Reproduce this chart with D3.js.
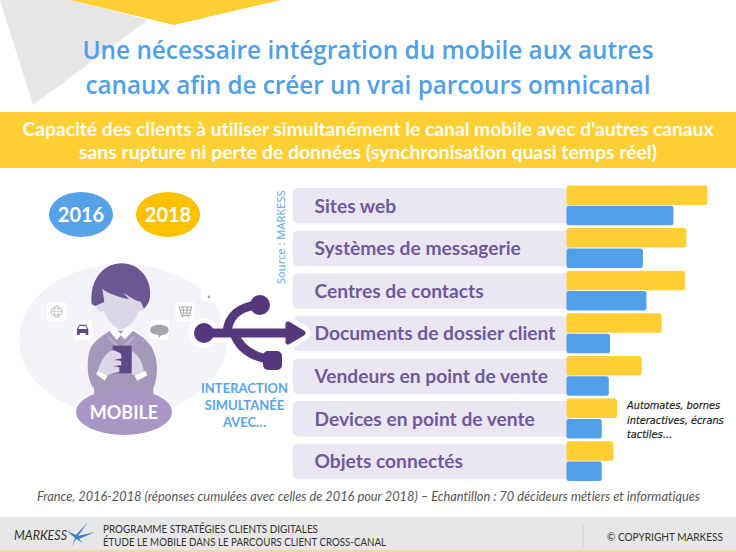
<!DOCTYPE html>
<html>
<head>
<meta charset="utf-8">
<script src="https://cdn.jsdelivr.net/npm/d3@7"></script>
<style>
    html, body { margin: 0; padding: 0; background: #fff; }
    svg { display: block; }
    text { font-family: Lato, "Open Sans", sans-serif; font-variant-ligatures: none; }
</style>
</head>
<body>
<div id="myChart"></div>
<script>
let categories = [
    'Sites web',
    'Systèmes de messagerie',
    'Centres de contacts',
    'Documents de dossier client',
    'Vendeurs en point de vente',
    'Devices en point de vente',
    'Objets connectés',
];
let series = ['2018', '2016'];
// %, no values printed in the picture
let values2018 = [60, 51, 50.5, 40.5, 32, 21.5, 20];
let values2016 = [45.5, 32.5, 34, 18.5, 18, 15, 15];
let titleLines = [
    'Une nécessaire intégration du mobile aux autres',
    'canaux afin de créer un vrai parcours omnicanal',
];
let subtitleLines = [
    "Capacité des clients à utiliser simultanément le canal mobile avec d'autres canaux",
    'sans rupture ni perte de données (synchronisation quasi temps réel)',
];
let interactionLines = ['INTERACTION', 'SIMULTANÉE', 'AVEC…'];
let noteLines = ['Automates, bornes', 'interactives, écrans', 'tactiles…'];
let footerLines = ['PROGRAMME STRATÉGIES CLIENTS DIGITALES', 'ÉTUDE LE MOBILE DANS LE PARCOURS CLIENT CROSS-CANAL'];

const width = 736;
const height = 552;
const blue = '#519fe8';
const yellow = '#ffcf33';
const purple = '#6f5a9c';
const dark = '#54377c';

let svg = d3
    .select('#myChart')
    .append('svg')
    .attr('width', width)
    .attr('height', height);

// small helper so the many text blocks stay short
function label(parent, txt, x, y, size, fill, opts) {
    opts = opts || {};
    let t = parent
        .append('text')
        .attr('x', x)
        .attr('y', y)
        .attr('font-size', size)
        .attr('fill', fill)
        .attr('font-weight', opts.weight || 400)
        .attr('font-style', opts.style || 'normal')
        .attr('text-anchor', opts.anchor || 'start')
        .text(txt);
    if (opts.len) {
        t.attr('textLength', opts.len).attr('lengthAdjust', 'spacingAndGlyphs');
    }
    if (opts.family) t.style('font-family', opts.family);
    return t;
}

// background shapes
svg.append('path').attr('d', 'M0,0 L33,105 L148,20 L70,0 Z').attr('fill', '#e6e6e8');
svg.append('path').attr('d', 'M70,0 L174,25 L281,0 Z').attr('fill', yellow);

// title
titleLines.forEach((d, i) => {
    label(svg, d, 368, 59 + i * 35, 26, blue, { weight: 600, anchor: 'middle', len: i ? 565 : 571, family: '"Open Sans"' });
});

// yellow band
svg.append('rect').attr('x', 0).attr('y', 112).attr('width', width).attr('height', 56).attr('fill', yellow);
subtitleLines.forEach((d, i) => {
    label(svg, d, 368, 136 + i * 23, 19.5, '#fff', { weight: 700, anchor: 'middle', len: i ? 578 : 691 });
});

// bars
let y0 = d3.scaleBand().domain(categories).range([185.5, 481]).paddingInner(0.065);
let y1 = d3.scaleBand().domain(series).range([0, y0.bandwidth()]).paddingInner(0.04);
let x = d3.scaleLinear().domain([0, 100]).range([566.5, 566.5 + 235]);

let rows = svg.append('g');
rows.selectAll('rect')
    .data(categories)
    .enter()
    .append('rect')
    .attr('x', 293)
    .attr('y', (d) => y0(d) + 2.5)
    .attr('width', 280)
    .attr('height', 35.5)
    .attr('rx', 5)
    .attr('fill', '#ebe7f2');

let table = categories.map((c, i) => [
    { cat: c, key: '2018', value: values2018[i] },
    { cat: c, key: '2016', value: values2016[i] },
]).flat();

svg.append('g')
    .selectAll('rect')
    .data(table)
    .enter()
    .append('rect')
    .attr('x', x(0))
    .attr('y', (d) => y0(d.cat) + y1(d.key))
    .attr('width', (d) => x(d.value) - x(0))
    .attr('height', y1.bandwidth())
    .attr('rx', 2.5)
    .attr('fill', (d) => (d.key === '2018' ? yellow : blue));

svg.append('g')
    .selectAll('text')
    .data(categories)
    .enter()
    .append('text')
    .attr('x', 314.5)
    .attr('y', (d) => y0(d) + 27)
    .attr('font-size', 19.2)
    .attr('font-weight', 700)
    .attr('fill', purple)
    .text((d) => d);

// note next to the devices row
noteLines.forEach((d, i) => {
    label(svg, d, 627, 409 + i * 14.5, 9.8, '#222', { style: 'italic', family: '"DejaVu Sans"' })
        .attr('stroke', '#222')
        .attr('stroke-width', 0.2);
});

// source
label(svg, 'Source : MARKESS', 0, 0, 11.1, '#63a9ea', { family: '"Noto Sans"' })
    .attr('transform', 'translate(285,284) rotate(-90)');

// legend
let legend = [
    { key: '2016', cx: 81, fill: '#55a2e8' },
    { key: '2018', cx: 168, fill: '#ffc000' },
];
legend.forEach((d) => {
    svg.append('ellipse').attr('cx', d.cx).attr('cy', 214.5).attr('rx', 32).attr('ry', 22.5).attr('fill', d.fill);
    label(svg, d.key, d.cx, 221.5, 20, '#fff', { weight: 700, anchor: 'middle' });
});

// mobile illustration
svg.append('ellipse').attr('cx', 123).attr('cy', 340).attr('rx', 104).attr('ry', 76).attr('fill', '#f4f3f7');

let icons = svg.append('g').attr('transform', 'translate(0,170) scale(0.3333)');
[[170, 425], [248, 480], [555, 425], [478, 480]].forEach((p) => {
    icons.append('rect').attr('x', p[0] - 29).attr('y', p[1] - 29).attr('width', 58).attr('height', 58).attr('rx', 8).attr('fill', '#fff');
});
icons.append('rect').attr('x', 603).attr('y', 355).attr('width', 45).attr('height', 40).attr('rx', 8).attr('fill', '#fff');
icons.append('path').attr('d', 'M622,384 L628,374 L630,384 Z').attr('fill', '#8d8d94');
// globe
icons.append('circle').attr('cx', 170).attr('cy', 425).attr('r', 16).attr('fill', 'none').attr('stroke', '#b5b5bb').attr('stroke-width', 2.5);
icons.append('ellipse').attr('cx', 170).attr('cy', 425).attr('rx', 7).attr('ry', 16).attr('fill', 'none').attr('stroke', '#b5b5bb').attr('stroke-width', 2);
icons.append('path').attr('d', 'M154,425 H186 M157,416 H183 M157,434 H183').attr('stroke', '#b5b5bb').attr('stroke-width', 2);
// car
icons.append('path').attr('d', 'M231,495 V478 L238,464 H258 L265,478 V495 H257 V489 H239 V495 Z').attr('fill', '#5f4a85');
icons.append('path').attr('d', 'M239,468 H257 L261,477 H235 Z').attr('fill', '#fff');
// cart
icons.append('path').attr('d', 'M538,411 H575 L569,437 H545 Z M548,437 V443 M565,437 V443 M549,411 L552,437 M562,411 L560,437 M541,420 H573 M543,429 H571').attr('fill', 'none').attr('stroke', '#a8a8ae').attr('stroke-width', 3);
// bubble
icons.append('path').attr('d', 'M478,465 C495,465 506,472 506,481 C506,490 495,496 485,496 L477,504 L476,496 C462,494 450,490 450,481 C450,472 462,465 478,465 Z').attr('transform', 'translate(0,-1)').attr('fill', '#a7a3ae');

let person = svg.append('g').attr('transform', 'translate(70,260) scale(0.3333)');
person.append('path')
    .attr('d', 'M118,212 C88,236 62,244 55,290 C50,330 55,365 72,385 L72,420 L250,420 L250,385 C265,350 266,300 245,262 C232,240 212,226 188,212 Z')
    .attr('fill', '#a498bb');
person.append('path').attr('d', 'M118,228 L152,262 L190,228 L196,234 L152,272 L112,234 Z').attr('fill', '#b8aec9');
person.append('path')
    .attr('d', 'M75,120 C74,152 92,160 102,152 C112,182 132,204 153,208 C178,204 198,180 206,152 C222,156 234,140 230,118 L180,50 L110,60 Z')
    .attr('fill', '#dcd7e8');
person.append('path')
    .attr('d', 'M65,132 C58,60 100,10 155,10 C210,10 246,60 240,110 C238,128 230,138 222,146 L212,125 C190,122 176,106 160,100 L178,118 C150,112 116,102 97,86 L103,126 L75,138 Z')
    .attr('fill', '#6c5793');
person.append('path').attr('d', 'M118,212 L135,200 L152,222 L172,200 L190,212 L164,238 L152,226 L140,240 Z').attr('fill', '#fff');
// right sleeve, phone, hand, cuffs
person.append('path').attr('d', 'M185,272 C205,285 218,305 222,338 L195,348 L183,340 Z').attr('fill', '#dcd7e8');
person.append('rect').attr('x', 128).attr('y', 257).attr('width', 57).attr('height', 83).attr('fill', '#5f4a85');
person.append('path')
    .attr('d', 'M130,270 C110,275 92,300 82,338 L108,350 C118,342 130,338 148,336 L148,322 L130,318 L155,316 L152,302 L132,300 L155,295 L152,280 Z')
    .attr('fill', '#dcd7e8');
person.append('path').attr('d', 'M78,342 L84,332 L112,348 L104,362 Z M194,348 L226,332 L232,346 L202,362 Z').attr('fill', '#fff');

svg.append('ellipse').attr('cx', 124).attr('cy', 412).attr('rx', 48).attr('ry', 23).attr('fill', '#a996c6');
label(svg, 'MOBILE', 124, 418.5, 18, '#fff', { weight: 700, anchor: 'middle' });

// usb arrow, white halo first then the dark stroke
const usbLines = 'M204,333 H290 M227,333 C228,316 240,306 260,305 M234,333 C240,350 255,358 274,360';
const usbHead = 'M288,324 L303,333 L288,342 Z';
let usb = svg.append('g').attr('stroke-linecap', 'round').attr('stroke-linejoin', 'round');
[{ c: '#fff', extra: 10 }, { c: dark, extra: 0 }].forEach((s) => {
    usb.append('path').attr('d', usbLines).attr('fill', 'none').attr('stroke', s.c).attr('stroke-width', 9 + s.extra);
    usb.append('path').attr('d', usbHead).attr('fill', s.c).attr('stroke', s.c).attr('stroke-width', 5 + s.extra);
    usb.append('circle').attr('cx', 204).attr('cy', 333).attr('r', 10 + s.extra / 2).attr('fill', s.c);
    usb.append('circle').attr('cx', 260).attr('cy', 305).attr('r', 10 + s.extra / 2).attr('fill', s.c);
    usb.append('rect')
        .attr('x', 263 - s.extra / 2)
        .attr('y', 351 - s.extra / 2)
        .attr('width', 19 + s.extra)
        .attr('height', 19 + s.extra)
        .attr('rx', 5)
        .attr('fill', s.c);
});

interactionLines.forEach((d, i) => {
    label(svg, d, 244.5, 393 + i * 17, 13, '#5aa5ea', { weight: 700, anchor: 'middle' });
});

// footnote
label(svg, 'France, 2016-2018 (réponses cumulées avec celles de 2016 pour 2018) – Echantillon : 70 décideurs métiers et informatiques',
    368.5, 501, 13, '#555', { style: 'italic', anchor: 'middle', len: 663 });

// footer
svg.append('rect').attr('x', 0).attr('y', 517).attr('width', width).attr('height', 33).attr('fill', '#e7e7e8');
svg.append('rect').attr('x', 0).attr('y', 550).attr('width', width).attr('height', 2).attr('fill', '#f3d8a6');
label(svg, 'MARKESS', 14, 540, 13.5, '#333', { style: 'italic', len: 53 });
svg.append('path')
    .attr('d', 'M88,522 L78,536 L95,532 L79,539 L83,543 L76,539 L72,546 L75,538 L67,531 L76,535 Z')
    .attr('fill', '#3f7fc9');
footerLines.forEach((d, i) => {
    label(svg, d, 103, 533 + i * 13, 11, '#333', { len: i ? 283 : 215 });
});
svg.append('line').attr('x1', 583).attr('x2', 583).attr('y1', 525).attr('y2', 548).attr('stroke', '#cfcfd2');
label(svg, '© COPYRIGHT MARKESS', 607, 541, 11, '#333', { len: 116 });
</script>
</body>
</html>
